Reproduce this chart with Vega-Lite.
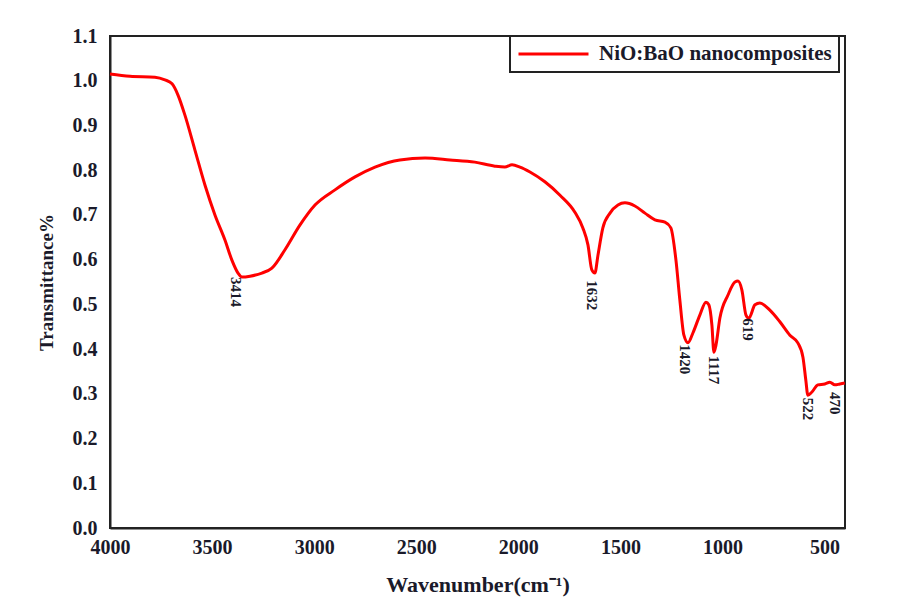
{
  "$schema": "https://vega.github.io/schema/vega-lite/v6.json",
  "width": 735,
  "height": 492,
  "autosize": {"type": "none"},
  "padding": {"left": 110, "top": 36, "right": 54, "bottom": 84},
  "background": "white",
  "config": {
    "view": {"stroke": "#222222", "strokeWidth": 2},
    "font": "Liberation Serif",
    "axis": {"grid": false, "labelFont": "Liberation Serif", "labelFontWeight": "bold", "labelColor": "#1a1a2a", "titleFont": "Liberation Serif", "titleFontWeight": "bold", "titleColor": "#1a1a2a", "domainColor": "#222222", "domainWidth": 2, "ticks": false},
    "legend": {"strokeColor": "#222222", "strokeWidth": 2, "fillColor": "white"}
  },
  "datasets": {
    "spectrum": [
      {"wn": 4000, "t": 1.015}, {"wn": 3902, "t": 1.010}, {"wn": 3780, "t": 1.008}, {"wn": 3731, "t": 1.002},
      {"wn": 3696, "t": 0.993}, {"wn": 3667, "t": 0.968}, {"wn": 3633, "t": 0.923}, {"wn": 3584, "t": 0.845},
      {"wn": 3535, "t": 0.767}, {"wn": 3486, "t": 0.700}, {"wn": 3437, "t": 0.644}, {"wn": 3403, "t": 0.599},
      {"wn": 3373, "t": 0.570}, {"wn": 3354, "t": 0.561}, {"wn": 3314, "t": 0.563}, {"wn": 3256, "t": 0.570},
      {"wn": 3207, "t": 0.581}, {"wn": 3143, "t": 0.622}, {"wn": 3070, "t": 0.677}, {"wn": 2996, "t": 0.722},
      {"wn": 2898, "t": 0.756}, {"wn": 2800, "t": 0.785}, {"wn": 2702, "t": 0.807}, {"wn": 2580, "t": 0.823},
      {"wn": 2457, "t": 0.827}, {"wn": 2335, "t": 0.823}, {"wn": 2213, "t": 0.818}, {"wn": 2115, "t": 0.809},
      {"wn": 2066, "t": 0.807}, {"wn": 2031, "t": 0.812}, {"wn": 1992, "t": 0.807}, {"wn": 1943, "t": 0.796},
      {"wn": 1870, "t": 0.774}, {"wn": 1796, "t": 0.744}, {"wn": 1723, "t": 0.706}, {"wn": 1684, "t": 0.671},
      {"wn": 1659, "t": 0.633}, {"wn": 1640, "t": 0.577}, {"wn": 1625, "t": 0.570}, {"wn": 1610, "t": 0.610},
      {"wn": 1586, "t": 0.671}, {"wn": 1551, "t": 0.704}, {"wn": 1512, "t": 0.722}, {"wn": 1478, "t": 0.727},
      {"wn": 1429, "t": 0.720}, {"wn": 1380, "t": 0.704}, {"wn": 1331, "t": 0.689}, {"wn": 1282, "t": 0.684},
      {"wn": 1253, "t": 0.671}, {"wn": 1228, "t": 0.599}, {"wn": 1209, "t": 0.510}, {"wn": 1189, "t": 0.431},
      {"wn": 1169, "t": 0.414}, {"wn": 1145, "t": 0.436}, {"wn": 1111, "t": 0.476}, {"wn": 1081, "t": 0.505},
      {"wn": 1067, "t": 0.499}, {"wn": 1052, "t": 0.454}, {"wn": 1042, "t": 0.393}, {"wn": 1032, "t": 0.409},
      {"wn": 1013, "t": 0.469}, {"wn": 973, "t": 0.521}, {"wn": 939, "t": 0.550}, {"wn": 924, "t": 0.552},
      {"wn": 905, "t": 0.532}, {"wn": 885, "t": 0.476}, {"wn": 871, "t": 0.469}, {"wn": 841, "t": 0.499},
      {"wn": 817, "t": 0.503}, {"wn": 768, "t": 0.487}, {"wn": 719, "t": 0.461}, {"wn": 670, "t": 0.431},
      {"wn": 631, "t": 0.414}, {"wn": 606, "t": 0.382}, {"wn": 592, "t": 0.331}, {"wn": 582, "t": 0.297},
      {"wn": 562, "t": 0.304}, {"wn": 533, "t": 0.320}, {"wn": 499, "t": 0.322}, {"wn": 474, "t": 0.326},
      {"wn": 450, "t": 0.320}, {"wn": 425, "t": 0.322}, {"wn": 401, "t": 0.324}
    ],
    "peaks": [
      {"wn": 3383, "t": 0.561, "label": "3414"},
      {"wn": 1640, "t": 0.554, "label": "1632"},
      {"wn": 1184, "t": 0.411, "label": "1420"},
      {"wn": 1042, "t": 0.385, "label": "1117"},
      {"wn": 876, "t": 0.469, "label": "619"},
      {"wn": 582, "t": 0.291, "label": "522"},
      {"wn": 450, "t": 0.304, "label": "470"}
    ]
  },
  "layer": [
    {
      "data": {"name": "spectrum"},
      "mark": {"type": "line", "strokeWidth": 3, "interpolate": "monotone"},
      "encoding": {
        "x": {"field": "wn", "type": "quantitative",
          "scale": {"domain": [400, 4000], "reverse": true, "nice": false, "zero": false},
          "axis": {"values": [4000, 3500, 3000, 2500, 2000, 1500, 1000, 500], "format": "d", "labelFontSize": 20, "labelPadding": 9, "title": "Wavenumber(cm⁻¹)", "titleFontSize": 22, "titlePadding": 17, "labelFlush": false}},
        "y": {"field": "t", "type": "quantitative",
          "scale": {"domain": [0, 1.1], "nice": false},
          "axis": {"values": [0, 0.1, 0.2, 0.3, 0.4, 0.5, 0.6, 0.7, 0.8, 0.9, 1.0, 1.1], "format": ".1f", "labelFontSize": 20, "labelPadding": 13, "title": "Transmittance%", "titleFontSize": 19, "titlePadding": 16}},
        "order": {"field": "wn", "sort": "descending"},
        "color": {"datum": "NiO:BaO nanocomposites", "type": "nominal",
          "scale": {"range": ["#ff0000"]},
          "legend": {"title": null, "orient": "none", "legendX": 400, "legendY": 0, "direction": "vertical",
            "padding": 7, "clipHeight": 22,
            "symbolType": "stroke", "symbolSize": 4900, "symbolStrokeWidth": 3,
            "labelFont": "Liberation Serif", "labelFontWeight": "bold", "labelFontSize": 21, "labelColor": "#1a1a2a", "labelOffset": 9, "labelLimit": 400}}
      }
    },
    {
      "data": {"name": "peaks"},
      "mark": {"type": "text", "angle": 90, "align": "left", "baseline": "middle", "font": "Liberation Serif", "fontWeight": "bold", "fontSize": 15, "color": "#1a1a2a"},
      "encoding": {
        "x": {"field": "wn", "type": "quantitative"},
        "y": {"field": "t", "type": "quantitative"},
        "text": {"field": "label"}
      }
    }
  ]
}
